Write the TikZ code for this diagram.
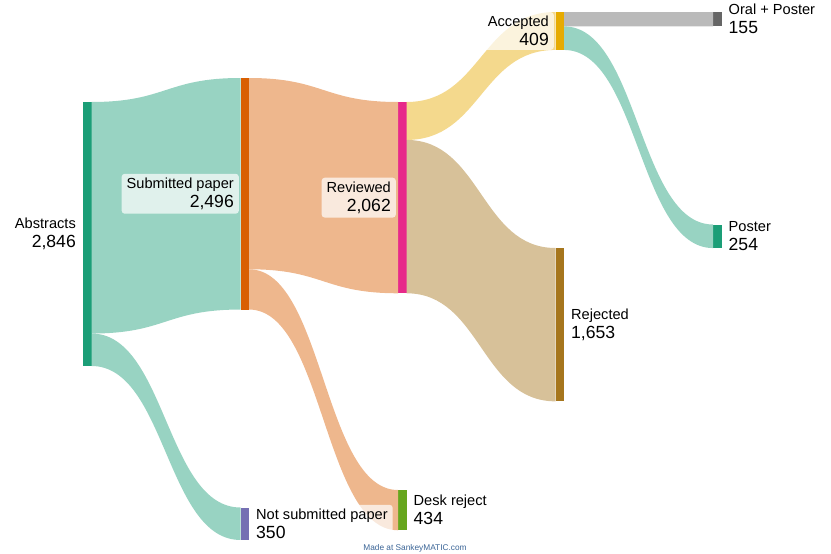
\documentclass[tikz,border=0pt]{standalone}
\usepackage{fontspec}
\setmainfont{Liberation Sans}
\usetikzlibrary{positioning}

\definecolor{abscol}{HTML}{1B9E77}
\definecolor{subcol}{HTML}{D95F02}
\definecolor{nsubcol}{HTML}{7570B3}
\definecolor{revcol}{HTML}{E7298A}
\definecolor{deskcol}{HTML}{66A61E}
\definecolor{acccol}{HTML}{E6AB02}
\definecolor{rejcol}{HTML}{A6761D}
\definecolor{oralcol}{HTML}{666666}
\definecolor{postercol}{HTML}{1B9E77}
\definecolor{creditcol}{RGB}{58,100,150}

\newcommand{\namefont}{\fontsize{14.6}{19}\selectfont}
\newcommand{\numfont}{\fontsize{17.6}{19}\selectfont}
% band between two bars: source, source offset, target, target offset, width, colour
\newcommand{\flow}[6]{%
  \fill[fill=#6] ([yshift=-#2pt]#1.north east) .. controls +(74.5,0) and +(-74.5,0) .. ([yshift=-#4pt]#3.north west)
    -- ([yshift={-(#4+#5)*1pt}]#3.north west) .. controls +(-74.5,0) and +(74.5,0) .. ([yshift={-(#2+#5)*1pt}]#1.north east) -- cycle}

\begin{document}
\begin{tikzpicture}
			[
				x=1pt, y=-1pt,
				bar/.style={draw=none, inner sep=0pt, outer sep=0pt, minimum width=8.5pt, anchor=north west},
				lbl/.style={fill=white, fill opacity=0.7, text opacity=1, rounded corners=3pt, inner xsep=5pt, inner ysep=4pt, font=\namefont},
				lblleft/.style={lbl, align=right},
				lblright/.style={lbl, align=left}
			]
			\useasboundingbox (0,0) rectangle (831,554);

			% nodes
			\foreach \nd/\x/\y/\h/\col in {abs/83/102/264/abscol, sub/240.5/78/231.53/subcol, nsub/240.5/507.5/32.47/nsubcol, rev/398/102/191.28/revcol, desk/398/490/40.26/deskcol, acc/555.5/12/37.94/acccol, rej/555.5/248/153.34/rejcol, oral/713/12/14.38/oralcol, poster/713/224.5/23.56/postercol}
			\node[bar, fill=\col, minimum height=\h pt] (\nd) at (\x,\y) {};

			% flows
			\foreach \src/\soff/\dst/\doff/\bw/\col in {abs/0/sub/0/231.53/abscol!45!white, abs/231.53/nsub/0/32.47/abscol!45!white, sub/0/rev/0/191.28/subcol!45!white, sub/191.28/desk/0/40.26/subcol!45!white, rev/0/acc/0/37.94/acccol!45!white, rev/37.94/rej/0/153.34/rejcol!45!white, acc/0/oral/0/14.38/oralcol!45!white, acc/14.38/poster/0/23.56/postercol!45!white}
			\flow{\src}{\soff}{\dst}{\doff}{\bw}{\col};

			% labels
			\node[lblleft, left=2pt of abs] (abslbl) {Abstracts\\{\numfont 2,846}};
			\node[lblleft, left=1.5pt of sub] (sublbl) {Submitted paper\\{\numfont 2,496}};
			\node[lblleft, left=2pt of rev] (revlbl) {Reviewed\\{\numfont 2,062}};
			\node[lblleft, left=1.5pt of acc] (acclbl) {Accepted\\{\numfont 409}};
			\node[lblright, right=2pt of nsub] (nsublbl) {Not submitted paper\\{\numfont 350}};
			\node[lblright, right=2pt of desk] (desklbl) {Desk reject\\{\numfont 434}};
			\node[lblright, right=2pt of rej] (rejlbl) {Rejected\\{\numfont 1,653}};
			\node[lblright, right=2pt of oral] (orallbl) {Oral + Poster\\{\numfont 155}};
			\node[lblright, right=2pt of poster] (posterlbl) {Poster\\{\numfont 254}};

			\node[font=\fontsize{8.3}{10}\selectfont, text=creditcol, anchor=base] (credit) at (415,550) {Made at SankeyMATIC.com};

		\end{tikzpicture}
\end{document}
